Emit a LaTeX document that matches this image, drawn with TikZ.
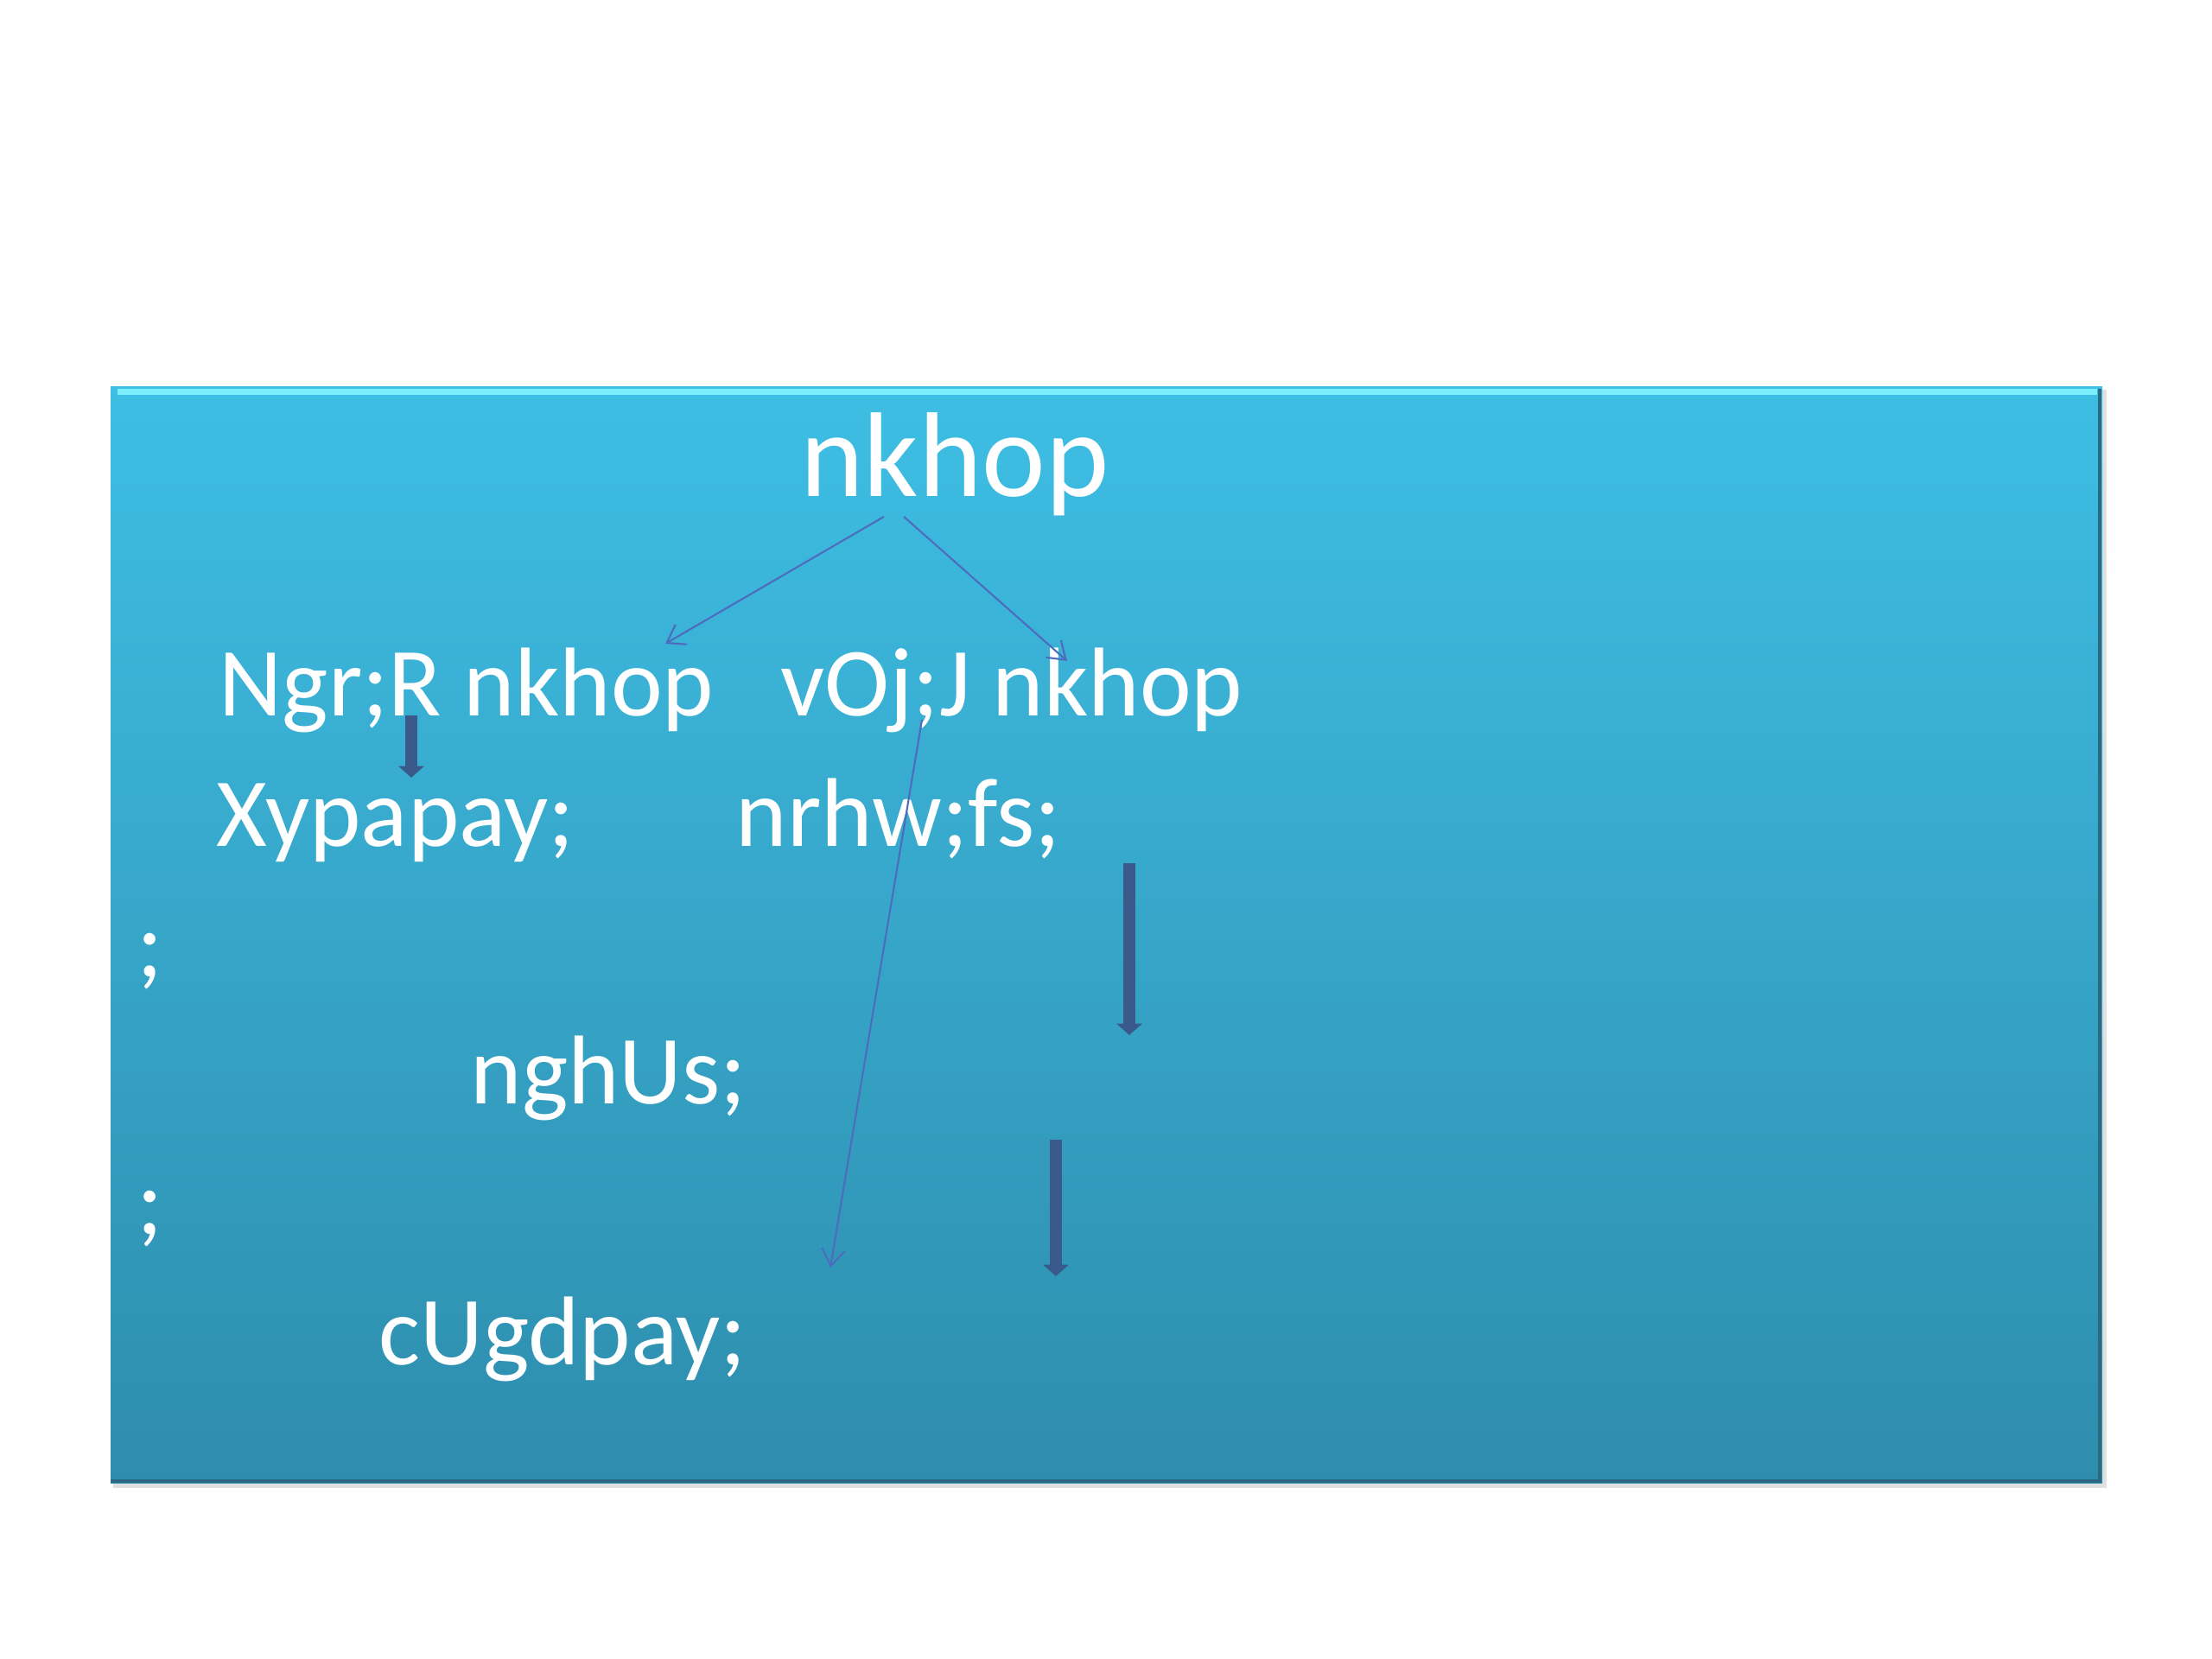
\documentclass[tikz,border=0pt]{standalone}
\usepackage{fontspec}
\setmainfont{Carlito}
\usepackage{xcolor}
\definecolor{SlideTop}{HTML}{3EBEE4}
\definecolor{SlideBot}{HTML}{2E8DAD}
\definecolor{EdgeLight}{HTML}{7CEFFF}
\definecolor{EdgeDark}{HTML}{2A6A82}
\definecolor{ThinBlue}{HTML}{4E6CBE}
\definecolor{FatBlue}{HTML}{3B5A8C}
\usepackage{tikz}
\usetikzlibrary{arrows.meta,positioning,calc}

\begin{document}
\begin{tikzpicture}[
  head/.style={text=white,inner sep=0pt,anchor=base west,font=\fontsize{39.7}{39.7}\selectfont},
  txt/.style={text=white,inner sep=0pt,anchor=base west,font=\fontsize{32.2}{32.2}\selectfont},
  thin/.style={-{Straight Barb[length=5.5pt,width=7.5pt]},line width=0.6pt,ThinBlue},
  fat/.style={-{Triangle[length=3.8pt,width=8.3pt]},line width=4pt,FatBlue}
]
  \useasboundingbox (0,0) rectangle (25.6,19.2);
  % slide panel
  \fill[black!12] (1.31,1.98) rectangle (24.38,14.69);
  \shade[top color=SlideTop,bottom color=SlideBot] (1.28,2.03) rectangle (24.33,14.72);
  \draw[EdgeLight,line width=2pt] (1.36,14.66) -- (24.27,14.66);
  \draw[EdgeDark,line width=1.2pt] (1.28,2.06) -- (24.30,2.06) -- (24.30,14.70);

  \node[head] (top) at (9.26,13.45) {nkhop};
  \node[txt] (nl) at (2.53,10.91) {Ngr;R nkhop};
  \node[txt] (nr) at (9.03,10.91) {vOj;J nkhop};
  \node[txt] (xl) at (2.50,9.40) {Xypapay;};
  \node[txt] (xr) at (8.51,9.40) {nrhw;fs;};
  \node[txt] (s1) at (1.58,7.89) {;};
  \node[txt] (ng) at (5.44,6.42) {nghUs;};
  \node[txt] (s2) at (1.58,4.91) {;};
  \node[txt] (cu) at (4.38,3.40) {cUgdpay;};

  % thin connectors
  \coordinate (topL) at (10.23,13.22);
  \coordinate (topR) at (10.46,13.22);
  \coordinate (nlT) at (7.70,11.75);
  \coordinate (nrT) at (12.35,11.55);
  \coordinate (nrB) at (10.67,10.87);
  \coordinate (cuT) at (9.61,4.53);
  \draw[thin] (topL) -- (nlT);
  \draw[thin] (topR) -- (nrT);
  \draw[thin] (nrB) -- (cuT);

  % thick arrows
  \coordinate (f1a) at (4.76,10.92);
  \coordinate (f1b) at (4.76,10.20);
  \coordinate (f2a) at (13.07,9.21);
  \coordinate (f2b) at (13.07,7.22);
  \coordinate (f3a) at (12.22,6.01);
  \coordinate (f3b) at (12.22,4.43);
  \draw[fat] (f1a) -- (f1b);
  \draw[fat] (f2a) -- (f2b);
  \draw[fat] (f3a) -- (f3b);
\end{tikzpicture}
\end{document}
